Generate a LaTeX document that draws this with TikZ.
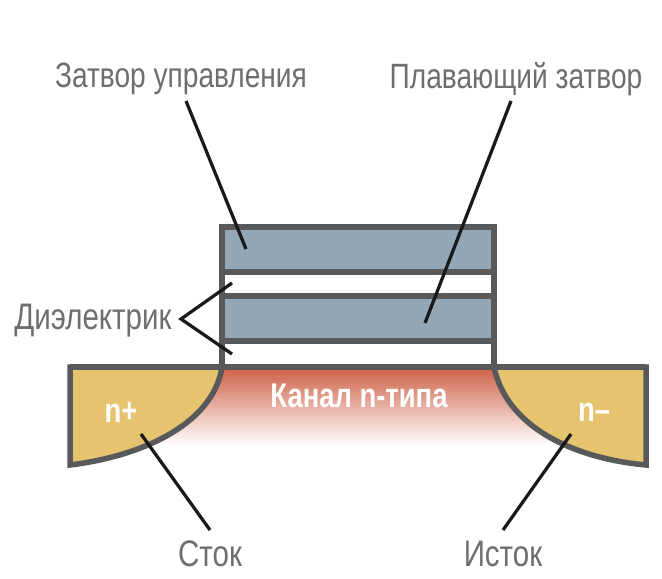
\documentclass[tikz,border=0pt]{standalone}
\usepackage{fontspec}
\setmainfont[FakeStretch=0.8]{Liberation Sans}
\usetikzlibrary{positioning}
\definecolor{wallgray}{HTML}{58595B}
\definecolor{labelgray}{HTML}{6D6E70}
\definecolor{gateblue}{HTML}{94A7B7}
\definecolor{wellyellow}{HTML}{E5C36F}
\definecolor{channelred}{HTML}{CE6046}
\tikzset{
  wall/.style={draw=wallgray, line width=0.11cm, line join=miter},
  leader/.style={draw=black!90, line width=0.065cm},
  caption/.style={text=labelgray, font=\fontsize{20}{24}\selectfont, inner sep=0pt},
  wide caption/.style={caption, font=\fontsize{21}{24}\selectfont},
  doping/.style={text=white, font=\bfseries\fontsize{19.5}{24}\selectfont, inner sep=0pt}
}
\begin{document}
\begin{tikzpicture}[x=0.02cm, y=-0.02cm]
  \useasboundingbox (0,0) rectangle (662,578);
  % Channel under the gate, runs on behind the wells
  \shade[top color=channelred, bottom color=white] (150,367) rectangle (566,445);
  % Source and drain wells
  \filldraw[wall, fill=wellyellow] (70,367) -- (222,367) .. controls (214,420) and (150,455) .. (70,465) -- cycle;
  \filldraw[wall, fill=wellyellow] (646,367) -- (494,367) .. controls (506,425) and (570,458) .. (646,465) -- cycle;
  % Surface line
  \draw[wall] (70,367) -- (646,367);
  % Gate stack
  \foreach \ytop/\ybot in {227/272, 296/341} {
    \filldraw[wall, fill=gateblue] (222,\ytop) rectangle (494,\ybot);
  }
  \draw[wall] (222,227) -- (222,367) (494,227) -- (494,367);
  % Labels
  \node[caption] (controlgate) at (181,79) {Затвор управления};
  \node[caption] (floatgate) at (516,79) {Плавающий затвор};
  \node[wide caption] (dielectric) at (93,321) {Диэлектрик};
  \node[wide caption] (drain) at (210,554) {Сток};
  \node[wide caption] (source) at (503,554) {Исток};
  \node[doping] (channel) at (359,396) {Канал n-типа};
  \node[doping] (nplus) at (121,412) {n+};
  \node[doping] (nminus) at (594,412) {n–};
  % Leader ends
  \coordinate (controlgate end) at (246,249);
  \coordinate (floatgate end) at (425,323);
  \coordinate (dielectric tip) at (181,319);
  \coordinate (dielectric up) at (232,283);
  \coordinate (dielectric down) at (232,354);
  \coordinate (drain end) at (141,434);
  \coordinate (source end) at (571,434);
  % Leaders
  \draw[leader] (186,101) -- (controlgate end);
  \draw[leader] (511,101) -- (floatgate end);
  \draw[leader] (dielectric up) -- (dielectric tip) -- (dielectric down);
  \draw[leader] (210,530) -- (drain end);
  \draw[leader] (503,530) -- (source end);
\end{tikzpicture}
\end{document}
